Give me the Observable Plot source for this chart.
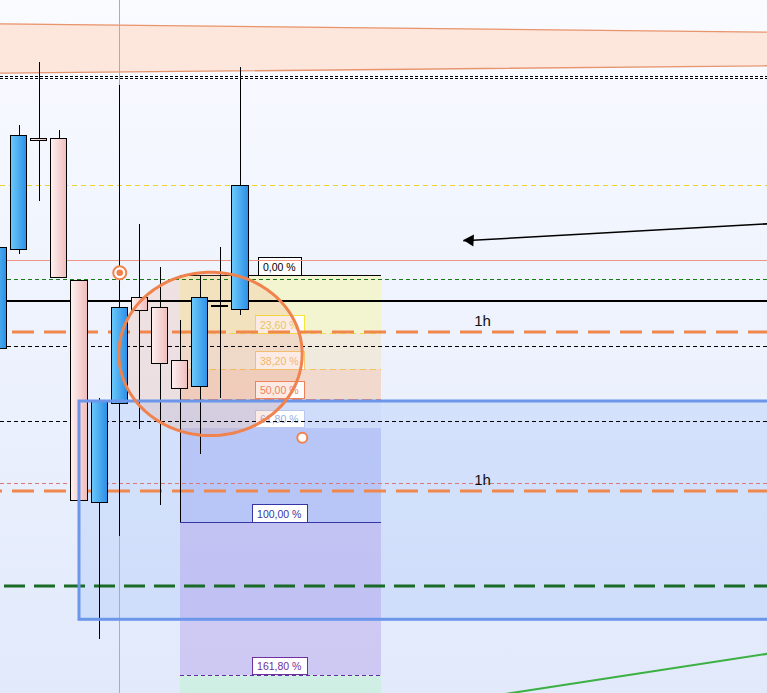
<!DOCTYPE html>
<html>
<head>
<meta charset="utf-8">
<script src="https://cdn.jsdelivr.net/npm/d3@7"></script>
<script src="https://cdn.jsdelivr.net/npm/@observablehq/plot@0.6"></script>
<style>
  html, body { margin: 0; padding: 0; background: #ffffff; }
  #chart { width: 767px; height: 693px; overflow: hidden; }
  #chart svg { display: block; }
</style>
</head>
<body>
<div id="chart"></div>
<script>
// ---- Candles (bar index, prices in chart points) ----
const bars   = [0,   1,   2,   3,   4,   5,   6,   7,   8,   9,   10,  11,  12];
const opens  = [352, 451, 562, 562, 420, 198, 297, 403, 393, 340, 314, 395, 391];
const highs  = [460, 575, 638, 570, 420, 302, 615, 476, 433, 380, 425, 453, 633];
const lows   = [345, 446, 499, 423, 200,  61, 164, 271, 195, 178, 246, 302, 385];
const closes = [453, 565, 560, 423, 200, 300, 393, 390, 337, 312, 403, 395, 515];

// ---- Horizontal levels ----
const levelPrices = [624.5, 622.5, 515, 440, 420.7, 399.5, 368.5, 354, 279, 217, 209.5, 114.5];
const levelKinds  = ["dots", "dots", "yellow", "redSolid", "greenThin", "blackSolid",
                     "orangeH1", "blackDash", "blackDash", "redDash", "orangeH1", "greenThick"];
const levelLabels = ["", "", "", "", "", "", "1h", "", "", "", "1h", ""];

// ---- Fibonacci retracement ----
const fibHigh = 425, fibLow = 178;
const fibStartBar = 9, fibEndBar = 19, fibLabelBar = 14;
const fibRatios = [0, 0.236, 0.382, 0.5, 0.618, 1, 1.618, 2.618];
const fibLabels = ["0,00 %", "23,60 %", "38,20 %", "50,00 %", "61,80 %", "100,00 %", "161,80 %", "261,80 %"];

// ---- Drawn objects ----
const channelBars   = [-1, 40];
const channelTop    = [676.9, 667.9];
const channelBottom = [627.1, 635.1];

const zoneBars   = [4, 42];
const zonePrices = [299, 80.7];

const crossBar = 6;
const targetBar = 6, targetPrice = 427.7;

const ellipseCenter = {bar: 10.51, price: 346.6};
const ellipseRadius = {bar: 4.556, price: 81.7};
const ellipseHandle = {bar: 15.07, price: 262.7};

const arrowBars   = [40, 23.07];
const arrowPrices = [478.7, 459.7];

const trendBars   = [24.4, 40];
const trendPrices = [4.2, 52.3];

// ---- Scales ----
const W = 767, H = 693;
const xDomain = [1.5 / 20.125, 768.5 / 20.125];
const yDomain = [7, 700];
const pxPerBar = W / (xDomain[1] - xDomain[0]);
const pxPerPoint = H / (yDomain[1] - yDomain[0]);

const candles = bars.map((b, i) => ({bar: b, open: opens[i], high: highs[i], low: lows[i], close: closes[i]}));
const upCandles = candles.filter(d => d.close > d.open);
const downCandles = candles.filter(d => d.close < d.open);
const flatCandles = candles.filter(d => d.close === d.open);

const fib = fibRatios.map((r, i) => ({ratio: r, price: fibHigh - r * (fibHigh - fibLow), label: fibLabels[i]}));
const fibVisible = fib.filter(d => d.price >= yDomain[0]);
const zoneFills = ["#fbf77c", "#f5dca4", "#fcad76", "#b0c0f0", "#8896f0", "#a58ce6", "#aff8b9"];
const zoneOpacity = [0.35, 0.35, 0.35, 0.12, 0.35, 0.35, 0.35];
const fibZones = fib.slice(0, -1).map((d, i) => ({top: d.price, bottom: fib[i + 1].price, fill: zoneFills[i], op: zoneOpacity[i]}));
const fibLine = {
  0:     {stroke: "#000000", dash: null,  text: "#000000", border: "#000000"},
  0.236: {stroke: "#ece04a", dash: "6,4", text: "#e2d456", border: "#f2e63a"},
  0.382: {stroke: "#f2c458", dash: "6,4", text: "#f0bf6a", border: "#f5c870"},
  0.5:   {stroke: "#f08060", dash: "10,4", text: "#f08058", border: "#f08058"},
  0.618: {stroke: "#b8c8f0", dash: "6,4", text: "#96aee6", border: "#b8c8f0"},
  1:     {stroke: "#3535a5", dash: null,  text: "#3535a5", border: "#3535a5"},
  1.618: {stroke: "#6a2aa0", dash: "4,3", text: "#7030a0", border: "#7030a0"},
  2.618: {stroke: "#2a9a6a", dash: "4,3", text: "#2a9a6a", border: "#2a9a6a"}
};
const charEm = {",": 0.278, " ": 0.278, "%": 0.889};
const labelFont = 10.5;
const labelWidthPx = s => d3.sum([...s], c => charEm[c] ?? 0.556) * labelFont + 10.6;
const labelHeightPx = 17.5;

const levelStyle = {
  dots:       {stroke: "#000000", width: 1, dash: "3,2",   crisp: true},
  yellow:     {stroke: "#efd12a", width: 1, dash: "5,4",   crisp: true},
  redSolid:   {stroke: "#f09484", width: 1, dash: null,    crisp: true},
  greenThin:  {stroke: "#177a17", width: 1, dash: "4,3",   crisp: true},
  blackSolid: {stroke: "#000000", width: 2, dash: null,    crisp: true},
  orangeH1:   {stroke: "#f0884e", width: 3, dash: "22,10", offset: 20},
  blackDash:  {stroke: "#000000", width: 1, dash: "4,3",   crisp: true},
  redDash:    {stroke: "#d97878", width: 1, dash: "4,3",   crisp: true},
  greenThick: {stroke: "#1a6b28", width: 3, dash: "21,9",  offset: 26}
};
const levels = levelPrices.map((p, i) => ({price: p, kind: levelKinds[i], label: levelLabels[i]}));

const channel = channelBars.map((b, i) => ({bar: b, top: channelTop[i], bottom: channelBottom[i]}));

// outline of the highlight ellipse, in chart units
const ellipsePts = d3.range(0, 361, 4).map(a => ({
  bar: ellipseCenter.bar + ellipseRadius.bar * Math.cos(a * Math.PI / 180),
  price: ellipseCenter.price + ellipseRadius.price * Math.sin(a * Math.PI / 180)
}));

// arrow head orientation in screen space
const ax = (arrowBars[1] - arrowBars[0]) * pxPerBar;
const ay = -(arrowPrices[1] - arrowPrices[0]) * pxPerPoint;
const alen = Math.hypot(ax, ay);
const headRotate = Math.atan2(ax / alen, ay / alen) * 180 / Math.PI;
const headR = 4.45;
const headBack = 2 * Math.sqrt(Math.PI * headR * headR / (3 * Math.sqrt(3)));

const font = "'Liberation Sans', Arial, sans-serif";
const crisp = {ariaDescription: "crisp"};

const marks = [
  // rising channel band
  Plot.areaY(channel, {x: "bar", y1: "bottom", y2: "top", fill: "#fde6dc", clip: true}),
  Plot.line(channel, {x: "bar", y: "top", stroke: "#e8956e", strokeWidth: 1.3, clip: true}),
  Plot.line(channel, {x: "bar", y: "bottom", stroke: "#e8956e", strokeWidth: 1.3, clip: true}),

  // support zone fill
  Plot.rect([0], {x1: zoneBars[0], x2: zoneBars[1], y1: zonePrices[0], y2: zonePrices[1],
                  fill: "#a9c6f8", fillOpacity: 0.35, clip: true, ...crisp}),

  // fibonacci zones
  Plot.rect(fibZones, {x1: fibStartBar, x2: fibEndBar, y1: "top", y2: "bottom",
                       fill: "fill", fillOpacity: d => d.op, clip: true, ...crisp}),
  ...fibVisible.map(d => Plot.ruleY([d], {y: "price", x1: fibStartBar, x2: fibEndBar,
       stroke: fibLine[d.ratio].stroke, strokeWidth: 1, strokeDasharray: fibLine[d.ratio].dash ?? undefined, ...crisp})),
  Plot.rect(fibVisible, {
    x1: d => fibLabelBar - labelWidthPx(d.label) / 2 / pxPerBar,
    x2: d => fibLabelBar + labelWidthPx(d.label) / 2 / pxPerBar,
    y1: "price", y2: d => d.price + labelHeightPx / pxPerPoint,
    fill: "white", stroke: d => fibLine[d.ratio].border, strokeWidth: 1, ...crisp
  }),
  Plot.text(fibVisible, {x: fibLabelBar, y: d => d.price + labelHeightPx / 2 / pxPerPoint, text: "label",
    fill: d => fibLine[d.ratio].text, fontSize: labelFont, fontFamily: font, dx: -1.5, dy: 0.5}),

  // highlight ellipse fill (behind the candles)
  Plot.line(ellipsePts, {x: "bar", y: "price", curve: "linear-closed", fill: "#f0906a", fillOpacity: 0.18,
                         stroke: "none"}),

  // horizontal levels
  ...levels.map(d => {
    const s = levelStyle[d.kind];
    return Plot.ruleY([d], {y: "price", stroke: s.stroke, strokeWidth: s.width,
      strokeDasharray: s.dash ?? undefined, strokeDashoffset: s.offset ?? undefined,
      ...(s.crisp ? crisp : {})});
  }),

  // crosshair
  Plot.ruleX([crossBar], {stroke: "#f09090", strokeWidth: 1, ...crisp}),

  // candles
  Plot.ruleX(candles, {x: "bar", y1: "low", y2: "high", stroke: "#000", strokeWidth: 1, ...crisp}),
  Plot.rect(upCandles, {x1: d => d.bar - 0.4, x2: d => d.bar + 0.4, y1: "open", y2: "close",
                        fill: "url(#bodyUp)", stroke: "#000", strokeWidth: 1, ...crisp}),
  Plot.rect(downCandles, {x1: d => d.bar - 0.4, x2: d => d.bar + 0.4, y1: "open", y2: "close",
                          fill: "url(#bodyDown)", stroke: "#000", strokeWidth: 1, ...crisp}),
  Plot.ruleY(flatCandles, {y: "open", x1: d => d.bar - 0.42, x2: d => d.bar + 0.42, stroke: "#000", strokeWidth: 2, ...crisp}),

  // support zone border
  Plot.rect([0], {x1: zoneBars[0], x2: zoneBars[1], y1: zonePrices[0], y2: zonePrices[1],
                  fill: "none", stroke: "#6b96ea", strokeWidth: 3, clip: true}),

  // highlight ellipse outline and handle
  Plot.line(ellipsePts, {x: "bar", y: "price", curve: "linear-closed", stroke: "#f0824e", strokeWidth: 3}),
  Plot.dot([ellipseHandle], {x: "bar", y: "price", r: 5, fill: "white", stroke: "#f0824e", strokeWidth: 2}),

  // target marker
  Plot.dot([0], {x: targetBar, y: targetPrice, r: 6.5, fill: "white", stroke: "#f0824e", strokeWidth: 2}),
  Plot.dot([0], {x: targetBar, y: targetPrice, r: 3.3, fill: "#f0824e"}),

  // arrow
  Plot.link([0], {x1: arrowBars[0], y1: arrowPrices[0], x2: arrowBars[1], y2: arrowPrices[1],
                  stroke: "#000", strokeWidth: 1.6}),
  Plot.dot([0], {x: arrowBars[1], y: arrowPrices[1], symbol: "triangle", r: headR, rotate: headRotate,
                 fill: "#000", stroke: "none", dx: -ax / alen * headBack, dy: -ay / alen * headBack}),

  // trend line
  Plot.link([0], {x1: trendBars[0], y1: trendPrices[0], x2: trendBars[1], y2: trendPrices[1],
                  stroke: "#3cb043", strokeWidth: 2, clip: true}),

  // timeframe tags on the H1 levels
  Plot.text(levels.filter(d => d.label), {x: 24.03, y: "price", text: "label", dy: -11,
    fill: "#111", fontSize: 15, fontFamily: font})
];

const chart = Plot.plot({
  width: W, height: H,
  marginTop: 0, marginRight: 0, marginBottom: 0, marginLeft: 0,
  x: {domain: xDomain, axis: null},
  y: {domain: yDomain, axis: null},
  style: {background: "linear-gradient(#f9fbff, #e1e9fb)", fontFamily: font, overflow: "hidden"},
  marks
});

// thin straight objects are drawn pixel-aligned
d3.select(chart).selectAll("[aria-description=crisp]").attr("shape-rendering", "crispEdges");

// body gradients referenced by the candle marks
const defs = d3.select(chart).insert("defs", ":first-child");
const grad = (id, a, b) => {
  const g = defs.append("linearGradient").attr("id", id).attr("x1", "0").attr("x2", "1").attr("y1", "0").attr("y2", "0");
  g.append("stop").attr("offset", "0%").attr("stop-color", a);
  g.append("stop").attr("offset", "100%").attr("stop-color", b);
};
grad("bodyUp", "#6ccafa", "#2c8fe6");
grad("bodyDown", "#fdf0f0", "#f0bcbc");

document.getElementById("chart").appendChild(chart);
</script>
</body>
</html>
